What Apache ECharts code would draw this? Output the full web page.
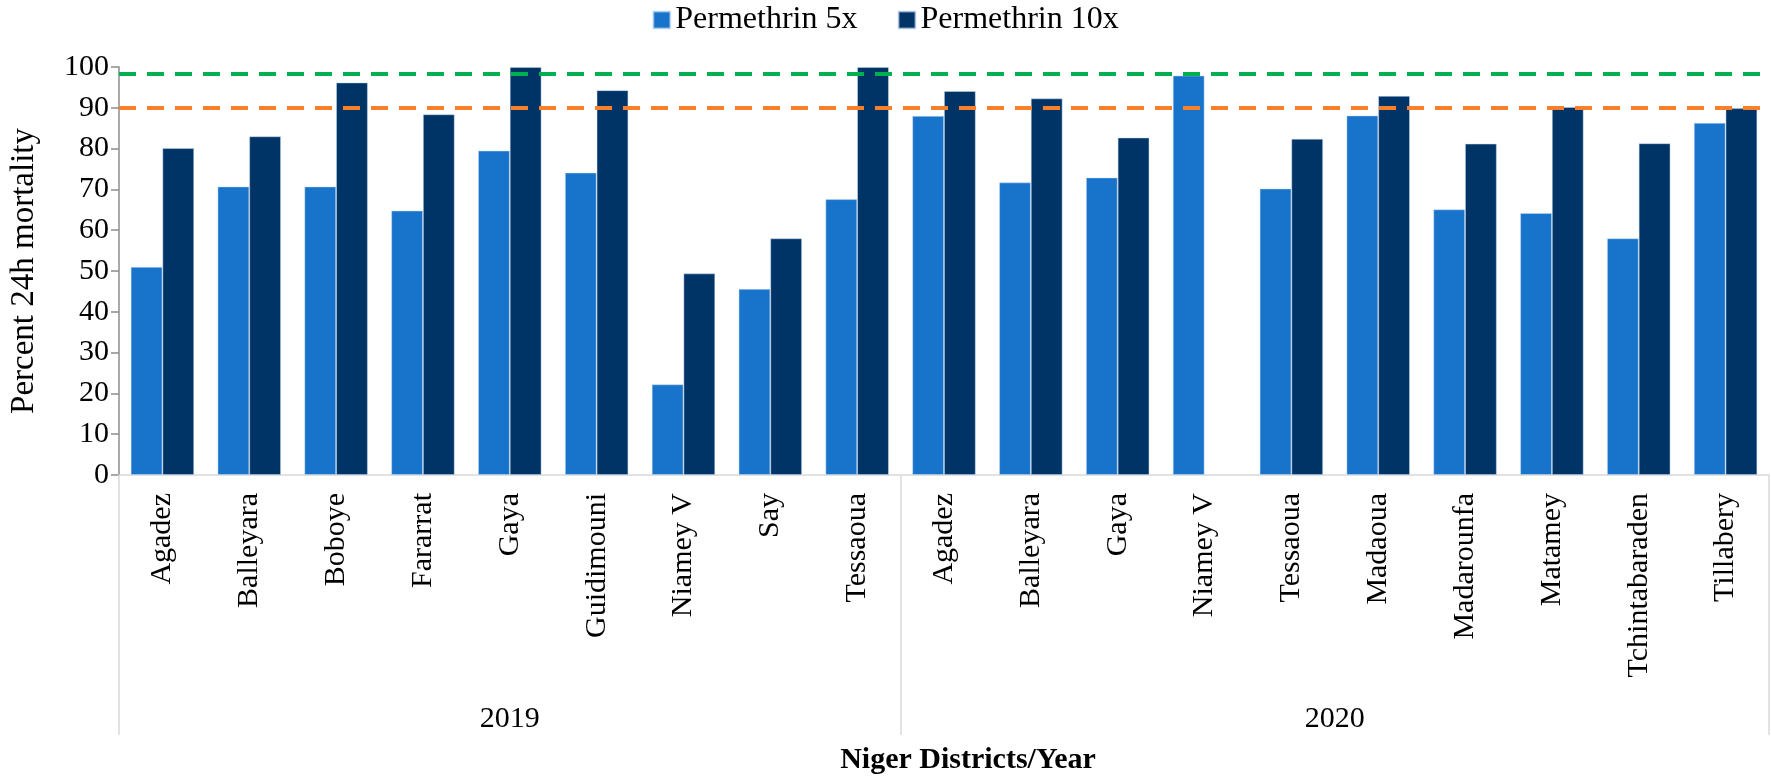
<!DOCTYPE html>
<html><head><meta charset="utf-8">
<script src="https://cdn.jsdelivr.net/npm/echarts@6/dist/echarts.min.js"></script>
<style>html,body{margin:0;padding:0;background:#fff}#c{width:1771px;height:780px}</style>
</head><body><div id="c"></div>
<script>
const districts = ['Agadez','Balleyara','Boboye','Fararrat','Gaya','Guidimouni','Niamey V','Say','Tessaoua',
  'Agadez','Balleyara','Gaya','Niamey V','Tessaoua','Madaoua','Madarounfa','Matamey','Tchintabaraden','Tillabery'];
const years = ['2019','2020'];
const yearCounts = [9,10];
const perm5x  = [51.0,70.7,70.7,64.8,79.5,74.1,22.2,45.6,67.6, 88.0,71.7,72.9,97.9,70.2,88.1,65.1,64.2,58.0,86.3];
const perm10x = [80.1,83.0,96.2,88.4,100,94.3,49.4,58.0,100, 94.1,92.3,82.7,null,82.4,92.9,81.2,90.2,81.3,89.9];
const thresholds = [98.4, 90];
const seriesNames = ['Permethrin 5x','Permethrin 10x'];

const FONT = "'Liberation Serif', 'Times New Roman', Tinos, 'DejaVu Serif', serif";
// year group boundaries and centers (in category units)
const bounds = [0]; yearCounts.forEach(n => bounds.push(bounds[bounds.length-1] + n));
const centers = yearCounts.map((n,i) => bounds[i] + n/2);

const chart = echarts.init(document.getElementById('c'), null, {renderer:'canvas'});
chart.setOption({
  animation:false,
  backgroundColor:'#fff',
  textStyle:{fontFamily:FONT},
  legend:{
    top:-1, left:'center', itemWidth:17, itemHeight:17, itemGap:40, icon:'rect',
    textStyle:{fontFamily:FONT, fontSize:32, color:'#000'},
    data:seriesNames
  },
  grid:{left:111, right:2, top:67, bottom:302, containLabel:false},
  xAxis:[{
    type:'category', data:districts,
    axisLine:{lineStyle:{color:'#d9d9d9', width:1.5}},
    axisTick:{show:false},
    axisLabel:{rotate:90, interval:0, margin:18, fontFamily:FONT, fontSize:30, color:'#000'}
  },{
    type:'value', min:0, max:bounds[bounds.length-1], position:'bottom',
    axisLine:{show:false}, splitLine:{show:false},
    axisTick:{show:true, customValues:bounds, length:260, lineStyle:{color:'#d9d9d9', width:1.5}},
    axisLabel:{customValues:centers, margin:229, fontFamily:FONT, fontSize:30, color:'#000',
      formatter:(v)=>{const i=centers.indexOf(v); return i>=0?years[i]:'';}},
    name:'Niger Districts/Year', nameLocation:'middle', nameGap:270,
    nameTextStyle:{fontFamily:FONT, fontSize:30, fontWeight:'bold', color:'#000', padding:[0,0,0,48]}
  }],
  yAxis:{
    type:'value', min:0, max:100, interval:10,
    axisLine:{show:true, lineStyle:{color:'#8c8c8c', width:1.5}},
    axisTick:{show:true, length:8, lineStyle:{color:'#8c8c8c', width:1.5}},
    splitLine:{show:false},
    axisLabel:{fontFamily:FONT, fontSize:30, color:'#000', margin:10},
    name:'Percent 24h mortality', nameLocation:'middle', nameGap:78, nameRotate:90,
    nameTextStyle:{fontFamily:FONT, fontSize:33, color:'#000'}
  },
  series:[{
    name:seriesNames[0], type:'bar', data:perm5x, barGap:'0%', barCategoryGap:'27%',
    itemStyle:{color:'#1874cb', borderColor:'rgba(200,220,245,0.6)', borderWidth:0.8},
    markLine:{
      silent:true, symbol:'none', label:{show:false}, z:10,
      data:[
        {yAxis:thresholds[0], lineStyle:{color:'#00b050', type:[17,11], width:4}},
        {yAxis:thresholds[1], lineStyle:{color:'#f8802a', type:[17,11], width:4}}
      ]
    }
  },{
    name:seriesNames[1], type:'bar', data:perm10x, barGap:'0%', barCategoryGap:'27%',
    itemStyle:{color:'#003466', borderColor:'rgba(200,220,245,0.6)', borderWidth:0.8}
  }]
});
</script></body></html>
